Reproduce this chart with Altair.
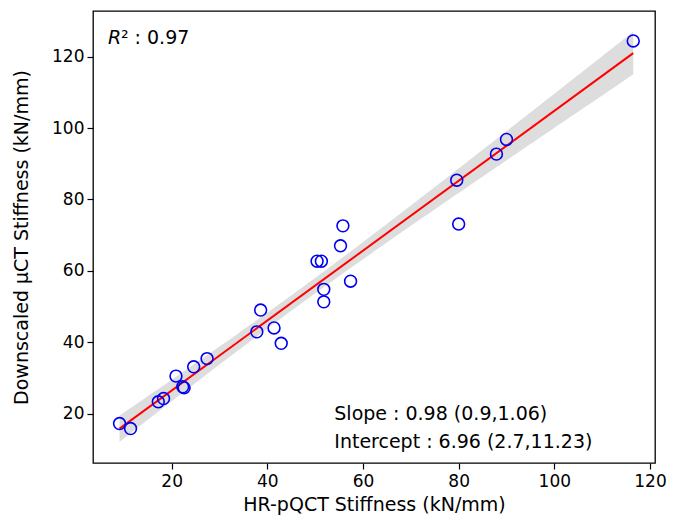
import altair as alt
import pandas as pd
import numpy as np

# HR-pQCT stiffness (x) vs downscaled microCT stiffness (y), kN/mm
x_vals = [9.1, 11.4, 17.2, 18.3, 20.9, 22.3, 22.6, 24.6, 27.4, 37.8, 38.6, 41.4, 42.9,
          50.4, 51.3, 51.8, 51.8, 55.3, 55.8, 57.4, 79.6, 80.0, 87.9, 90.0, 116.5]
y_vals = [17.2, 15.8, 23.3, 24.2, 30.5, 27.5, 27.2, 33.1, 35.4, 42.9, 49.0, 44.0, 39.7,
          62.7, 62.7, 54.8, 51.3, 67.0, 72.6, 57.1, 85.4, 73.1, 92.7, 96.8, 124.4]

x_ticks = [20, 40, 60, 80, 100, 120]
y_ticks = [20, 40, 60, 80, 100, 120]
x_domain = [3.55, 121.05]
y_domain = [6.15, 132.8]

r2_label = "0.97"
slope_label = "Slope : 0.98 (0.9,1.06)"
intercept_label = "Intercept : 6.96 (2.7,11.23)"

df = pd.DataFrame({"x": x_vals, "y": y_vals})

# 95% confidence band of the OLS fit (derived from the data)
xa = np.array(x_vals)
ya = np.array(y_vals)
n = len(xa)
b1, b0 = np.polyfit(xa, ya, 1)
res = ya - (b0 + b1 * xa)
s = np.sqrt(np.sum(res ** 2) / (n - 2))
sxx = np.sum((xa - xa.mean()) ** 2)
grid = np.linspace(xa.min(), xa.max(), 120)
se = s * np.sqrt(1.0 / n + (grid - xa.mean()) ** 2 / sxx)
t = 2.069
fit = b0 + b1 * grid
band = pd.DataFrame({"x": grid, "lo": fit - t * se, "hi": fit + t * se})

FONT = "DejaVu Sans"
FS_TICK = 17
FS = 19

xs = alt.Scale(domain=x_domain, nice=False, zero=False)
ys = alt.Scale(domain=y_domain, nice=False, zero=False)

x_axis = alt.Axis(values=x_ticks, title="HR-pQCT Stiffness (kN/mm)", grid=False,
                  domain=False, tickSize=6, tickWidth=1.2, tickColor="black",
                  labelFont=FONT, labelFontSize=FS_TICK, labelColor="black", labelPadding=4,
                  titleFont=FONT, titleFontSize=FS, titleFontWeight="normal",
                  titleColor="black", titlePadding=6)
y_axis = alt.Axis(values=y_ticks, title="Downscaled μCT Stiffness (kN/mm)", grid=False,
                  domain=False, tickSize=6, tickWidth=1.2, tickColor="black",
                  labelFont=FONT, labelFontSize=FS_TICK, labelColor="black", labelPadding=3,
                  titleFont=FONT, titleFontSize=FS, titleFontWeight="normal",
                  titleColor="black", titlePadding=20)

band_layer = alt.Chart(band).mark_area(color="#d9d9d9", opacity=0.9).encode(
    x=alt.X("x:Q", scale=xs, axis=x_axis),
    y=alt.Y("lo:Q", scale=ys, axis=y_axis),
    y2="hi:Q",
)

line_layer = alt.Chart(df).transform_regression(
    "x", "y", extent=[min(x_vals), max(x_vals)]
).mark_line(color="#ff0000", strokeWidth=2).encode(
    x=alt.X("x:Q", scale=xs),
    y=alt.Y("y:Q", scale=ys),
)

pts = alt.Chart(df).mark_point(shape="circle", filled=False, color="#0000ee",
                               size=140, strokeWidth=1.6, opacity=1).encode(
    x=alt.X("x:Q", scale=xs),
    y=alt.Y("y:Q", scale=ys),
)

ann = pd.DataFrame({
    "x": [6.67, 6.67, 54.0, 54.0],
    "y": [123.5, 123.5, 18.1, 10.3],
    "t": ["R", "² : " + r2_label, slope_label, intercept_label],
})

r_text = alt.Chart(ann.iloc[[0]]).mark_text(
    align="left", baseline="alphabetic", font=FONT, fontSize=FS, fontStyle="italic",
    color="black").encode(x=alt.X("x:Q", scale=xs), y=alt.Y("y:Q", scale=ys), text="t:N")
r2_text = alt.Chart(ann.iloc[[1]]).mark_text(
    align="left", baseline="alphabetic", font=FONT, fontSize=FS, color="black", dx=13
).encode(x=alt.X("x:Q", scale=xs), y=alt.Y("y:Q", scale=ys), text="t:N")
stat_text = alt.Chart(ann.iloc[[2, 3]]).mark_text(
    align="left", baseline="alphabetic", font=FONT, fontSize=FS, color="black"
).encode(x=alt.X("x:Q", scale=xs), y=alt.Y("y:Q", scale=ys), text="t:N")

chart = alt.layer(band_layer, line_layer, pts, r_text, r2_text, stat_text).properties(
    width=562, height=452,
    autosize=alt.AutoSizeParams(type="none"),
    padding={"left": 85, "top": 3, "right": 11, "bottom": 54},
    background="white",
).configure_view(stroke="black", strokeWidth=1.3)

chart.save("out.html", embed_options={"renderer": "svg", "actions": False})
